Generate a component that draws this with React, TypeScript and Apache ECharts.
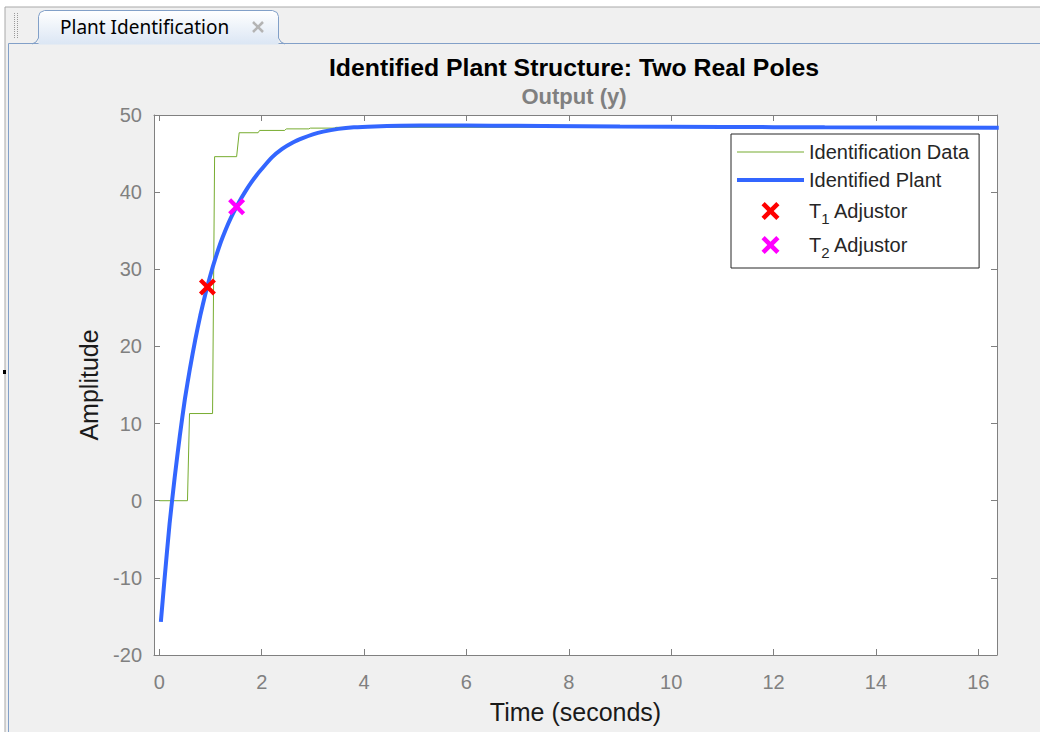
import React, { useEffect, useRef } from 'react';
import * as echarts from 'echarts';

// ---- data ----
const xTicks = [0, 2, 4, 6, 8, 10, 12, 14, 16];

const idTime = [0, 0.55, 0.59, 1.04, 1.08, 1.51, 1.56, 1.93, 1.96, 2.45, 2.48, 2.92, 2.95, 3.42, 3.45, 16.4];
const idValue = [0, 0, 11.3, 11.3, 44.6, 44.6, 47.7, 47.7, 48.0, 48.0, 48.2, 48.2, 48.3, 48.3, 48.4, 48.4];

const plantTime = [0.03, 0.1, 0.2, 0.3, 0.4, 0.5, 0.6, 0.7, 0.8, 0.9, 1.0, 1.1, 1.2, 1.3, 1.4, 1.5, 1.6, 1.7, 1.8, 1.9, 2.0, 2.2, 2.4, 2.6, 2.8, 3.0, 3.2, 3.5, 3.8, 4.2, 4.7, 5.5, 6.5, 7.5, 9, 11, 13, 16.4];
const plantValue = [-15.7, -10.3, -3.0, 3.0, 8.4, 13.2, 17.2, 20.8, 24.0, 26.8, 29.3, 31.5, 33.5, 35.2, 36.7, 38.0, 39.2, 40.3, 41.3, 42.2, 43.0, 44.5, 45.6, 46.4, 47.0, 47.5, 47.85, 48.2, 48.4, 48.52, 48.6, 48.65, 48.62, 48.57, 48.5, 48.45, 48.4, 48.36];

const t1Point = [0.94, 27.7];
const t2Point = [1.51, 38.1];

const seriesNames = ['Identification Data', 'Identified Plant', 'T1 Adjustor', 'T2 Adjustor'];

const FONT = '"Liberation Sans", Arial, Helvetica, sans-serif';
const AXIS_GRAY = '#808080';
const X_PATH = 'path://M0,2.5L2.5,0L7,4.5L11.5,0L14,2.5L9.5,7L14,11.5L11.5,14L7,9.5L2.5,14L0,11.5L4.5,7Z';

export default function App() {
  const ref = useRef<HTMLDivElement>(null);

  useEffect(() => {
    if (!ref.current) return;
    const chart = echarts.init(ref.current, undefined, { renderer: 'svg' });

    const xMin = -0.104;
    const xMax = 16.366;

    const baseX = {
      type: 'value',
      min: xMin,
      max: xMax,
      splitLine: { show: false },
      axisLine: { show: true, onZero: false, lineStyle: { color: AXIS_GRAY, width: 1 } },
      axisTick: { show: true, inside: true, length: 6, customValues: xTicks, lineStyle: { color: AXIS_GRAY } },
    };
    const baseY = {
      type: 'value',
      min: -20,
      max: 50,
      interval: 10,
      splitLine: { show: false },
      axisLine: { show: true, onZero: false, lineStyle: { color: AXIS_GRAY, width: 1 } },
      axisTick: { show: true, inside: true, length: 6, lineStyle: { color: AXIS_GRAY } },
    };

    const option: any = {
      animation: false,
      backgroundColor: 'transparent',
      title: {
        text: 'Identified Plant Structure: Two Real Poles',
        subtext: 'Output (y)',
        left: 574,
        top: 54,
        textAlign: 'center',
        padding: 0,
        itemGap: 3,
        textStyle: { fontFamily: FONT, fontSize: 24.8, fontWeight: 'bold', color: '#000', lineHeight: 27 },
        subtextStyle: { fontFamily: FONT, fontSize: 22, fontWeight: 'bold', color: '#808080', lineHeight: 25 },
      },
      graphic: [
        { type: 'rect', z: -20, silent: true, shape: { x: 5, y: 7, width: 1040, height: 730 }, style: { fill: '#f0f0f0', stroke: '#a8a8a8', lineWidth: 1 } },
        { type: 'line', z: -19, silent: true, shape: { x1: 8.5, y1: 43.5, x2: 1040, y2: 43.5 }, style: { stroke: '#82a0c8', lineWidth: 1 } },
        { type: 'line', z: -19, silent: true, shape: { x1: 8.5, y1: 43.5, x2: 8.5, y2: 732 }, style: { stroke: '#82a0c8', lineWidth: 1 } },
        {
          type: 'rect', z: -18, silent: true,
          shape: { x: 38.5, y: 10.5, width: 240, height: 34, r: [6, 6, 0, 0] },
          style: {
            fill: new echarts.graphic.LinearGradient(0, 0, 0, 1, [
              { offset: 0, color: '#ffffff' },
              { offset: 1, color: '#dbe6f4' },
            ]),
          },
        },
        {
          type: 'polyline', z: -17, silent: true,
          shape: { points: [[32, 44], [36, 42], [38.5, 38], [38.5, 16.5], [40, 12.5], [44.5, 10.5], [272.5, 10.5], [277, 12.5], [278.5, 16.5], [278.5, 38], [281, 42], [285, 44]] },
          style: { stroke: '#82a0c8', lineWidth: 1, fill: null },
        },
        { type: 'line', z: -17, silent: true, shape: { x1: 14.5, y1: 13, x2: 14.5, y2: 38 }, style: { stroke: '#9a9a9a', lineWidth: 1, lineDash: [1, 1] } },
        { type: 'line', z: -17, silent: true, shape: { x1: 17.5, y1: 13, x2: 17.5, y2: 38 }, style: { stroke: '#9a9a9a', lineWidth: 1, lineDash: [1, 1] } },
        {
          type: 'text', z: -16, silent: true, x: 60, y: 27,
          style: { text: 'Plant Identification', font: '19px "Noto Sans", "Liberation Sans", Arial, sans-serif', fill: '#000', verticalAlign: 'middle', align: 'left' },
        },
        { type: 'line', z: -16, silent: true, shape: { x1: 253, y1: 22, x2: 263, y2: 32 }, style: { stroke: '#b4b4b4', lineWidth: 2.5 } },
        { type: 'line', z: -16, silent: true, shape: { x1: 263, y1: 22, x2: 253, y2: 32 }, style: { stroke: '#b4b4b4', lineWidth: 2.5 } },
        { type: 'rect', z: -16, silent: true, shape: { x: 3, y: 370, width: 3, height: 4 }, style: { fill: '#000' } },
      ],
      grid: {
        left: 154,
        top: 115,
        width: 843,
        height: 540,
        show: true,
        backgroundColor: '#ffffff',
        borderWidth: 0,
        containLabel: false,
      },
      legend: {
        orient: 'vertical',
        left: 731,
        top: 134,
        padding: [5, 10, 7, 6],
        itemWidth: 67,
        itemHeight: 18,
        itemGap: 2,
        backgroundColor: '#ffffff',
        borderColor: '#262626',
        borderWidth: 1,
        borderRadius: 0,
        data: [
          { name: seriesNames[0], icon: 'path://M0,0H67V1.2H0Z', itemStyle: { borderWidth: 0 } },
          { name: seriesNames[1], icon: 'path://M0,0H67V4H0Z', itemStyle: { borderWidth: 0 } },
          { name: seriesNames[2] },
          { name: seriesNames[3] },
        ],
        textStyle: {
          fontFamily: FONT,
          fontSize: 20,
          color: '#262626',
          lineHeight: 26,
          rich: {
            m: { fontFamily: FONT, fontSize: 20, color: '#262626', lineHeight: 32, verticalAlign: 'middle' },
            s: { fontFamily: FONT, fontSize: 15, color: '#262626', lineHeight: 32, padding: [16, 0, 0, 0], verticalAlign: 'top' },
          },
        },
        formatter: (name: string) => {
          if (name === 'T1 Adjustor') return '{m|T}{s|1}{m| Adjustor}';
          if (name === 'T2 Adjustor') return '{m|T}{s|2}{m| Adjustor}';
          return name;
        },
      },
      xAxis: [
        {
          ...baseX,
          position: 'bottom',
          axisLabel: { show: true, customValues: xTicks, color: AXIS_GRAY, fontSize: 20, fontFamily: FONT, margin: 17 },
          name: 'Time (seconds)',
          nameLocation: 'middle',
          nameGap: 44,
          nameTextStyle: { color: '#1a1a1a', fontSize: 25, fontFamily: FONT },
        },
        {
          ...baseX,
          position: 'top',
          axisLabel: { show: false },
        },
      ],
      yAxis: [
        {
          ...baseY,
          position: 'left',
          axisLabel: { show: true, color: AXIS_GRAY, fontSize: 20, fontFamily: FONT, margin: 12 },
          name: 'Amplitude',
          nameLocation: 'middle',
          nameGap: 53,
          nameRotate: 90,
          nameTextStyle: { color: '#1a1a1a', fontSize: 25, fontFamily: FONT },
        },
        {
          ...baseY,
          position: 'right',
          axisLabel: { show: false },
        },
      ],
      series: [
        {
          name: seriesNames[0],
          type: 'line',
          xAxisIndex: 0,
          yAxisIndex: 0,
          data: idTime.map((t, i) => [t, idValue[i]]),
          symbol: 'none',
          showSymbol: false,
          lineStyle: { color: '#77ac30', width: 1 },
          itemStyle: { color: '#77ac30' },
          z: 2,
        },
        {
          name: seriesNames[1],
          type: 'line',
          xAxisIndex: 0,
          yAxisIndex: 0,
          data: plantTime.map((t, i) => [t, plantValue[i]]),
          symbol: 'none',
          showSymbol: false,
          smooth: 0.2,
          lineStyle: { color: '#3366ff', width: 4 },
          itemStyle: { color: '#3366ff' },
          z: 3,
        },
        {
          name: seriesNames[2],
          type: 'scatter',
          xAxisIndex: 0,
          yAxisIndex: 0,
          data: [t1Point],
          symbol: X_PATH,
          symbolSize: 17,
          itemStyle: { color: '#ff0000', opacity: 1 },
          z: 4,
        },
        {
          name: seriesNames[3],
          type: 'scatter',
          xAxisIndex: 0,
          yAxisIndex: 0,
          data: [t2Point],
          symbol: X_PATH,
          symbolSize: 17,
          itemStyle: { color: '#ff00ff', opacity: 1 },
          z: 4,
        },
      ],
    };

    chart.setOption(option);
    return () => chart.dispose();
  }, []);

  return (
    <div
      ref={ref}
      style={{ position: 'fixed', left: 0, top: 0, width: 1040, height: 732, background: '#ffffff' }}
    />
  );
}
